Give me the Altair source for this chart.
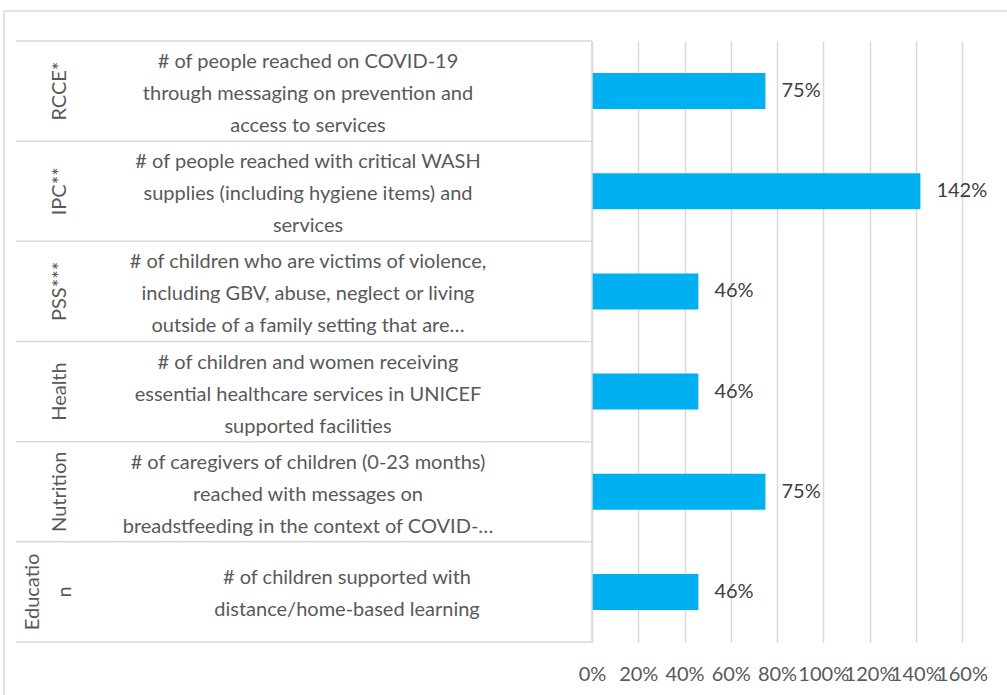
import altair as alt
import pandas as pd

groups = ["RCCE*", "IPC**", "PSS***", "Health", "Nutrition", "Educatio\nn"]
indicators = [
    "# of people reached on COVID-19\nthrough messaging on prevention and\naccess to services",
    "# of people reached with critical WASH\nsupplies (including hygiene items) and\nservices",
    "# of children who are victims of violence,\nincluding GBV, abuse, neglect or living\noutside of a family setting that are…",
    "# of children and women receiving\nessential healthcare services in UNICEF\nsupported facilities",
    "# of caregivers of children (0-23 months)\nreached with messages on\nbreadstfeeding in the context of COVID-…",
    "# of children supported with\ndistance/home-based learning",
]
values = [0.75, 1.42, 0.46, 0.46, 0.75, 0.46]
x_ticks = [0, 0.2, 0.4, 0.6, 0.8, 1.0, 1.2, 1.4, 1.6]

df = pd.DataFrame({"group": groups, "indicator": indicators, "value": values})
df["key"] = [str(i) for i in range(len(groups))]
order = list(df["key"])
last = order[-1]

FONT = "Lato"
GRID = "#D9D9D9"
TXT = "#595959"
FS = 20

xscale = alt.Scale(domain=[0, 1.6], range=[576, 946])
yscale = alt.Scale(type="band", domain=order, paddingInner=0, paddingOuter=0)
Y = lambda bp=0.5: alt.Y("key:N", scale=yscale, axis=None, bandPosition=bp)

base = alt.Chart(df)
one = alt.Chart(pd.DataFrame({"a": [0]}))

bars = base.mark_bar(color="#00B0F0", height=alt.RelativeBandSize(0.36)).encode(
    x=alt.X("value:Q", scale=xscale,
            axis=alt.Axis(values=x_ticks, format=".0%", grid=True, gridColor=GRID, gridWidth=1.5,
                          ticks=False, domain=False, labelFont=FONT, labelFontSize=FS,
                          labelColor=TXT, labelPadding=22, labelOverlap=False, labelBound=False,
                          labelFlush=False, title=None)),
    y=alt.Y("key:N", scale=yscale, axis=None),
)

bar_labels = base.mark_text(align="left", baseline="middle", dx=16, font=FONT, fontSize=FS,
                            color="#404040").encode(
    x=alt.X("value:Q", scale=xscale),
    y=Y(),
    text=alt.Text("value:Q", format=".0%"),
)

row_lines = base.mark_rule(color=GRID, strokeWidth=1.5).encode(
    y=Y(0), x=alt.value(0), x2=alt.value(576),
)
bottom_line = base.transform_filter(alt.datum.key == last).mark_rule(
    color=GRID, strokeWidth=1.5).encode(
    y=Y(1), x=alt.value(0), x2=alt.value(576),
)

axis_line = one.mark_rule(color=GRID, strokeWidth=1.5).encode(
    x=alt.X(datum=0, scale=xscale)
)

def txt(**kw):
    return dict(font=FONT, fontSize=FS, color=TXT, lineBreak="\n", lineHeight=32,
                align="center", baseline="middle", **kw)

group_labels = base.transform_filter(alt.datum.key != last).mark_text(
    **txt(angle=270)).encode(x=alt.value(44), y=Y(), text="group:N")
group_label_last = base.transform_filter(alt.datum.key == last).mark_text(
    **txt(angle=270, dy=-27)).encode(x=alt.value(44), y=Y(), text="group:N")

item_labels = base.transform_filter(alt.datum.key != last).mark_text(
    **txt(dy=-29)).encode(x=alt.value(292), y=Y(), text="indicator:N")
item_label_last = base.transform_filter(alt.datum.key == last).mark_text(
    **txt(dy=-14)).encode(x=alt.value(331), y=Y(), text="indicator:N")

border_top = one.mark_rule(color=GRID, strokeWidth=1.5).encode(
    x=alt.value(-12), x2=alt.value(991), y=alt.value(-30))
border_left = one.mark_rule(color=GRID, strokeWidth=1.5).encode(
    x=alt.value(-12), y=alt.value(-30), y2=alt.value(654))

chart = alt.layer(
    border_top, border_left, row_lines, bottom_line, bars, axis_line, bar_labels,
    group_labels, group_label_last, item_labels, item_label_last,
).properties(
    width=946, height=601,
    autosize=alt.AutoSizeParams(type="none"),
    padding={"left": 16, "top": 41, "right": 45, "bottom": 53},
    background="white",
).configure_view(strokeWidth=0)

chart.save("out.html", embed_options={"renderer": "svg", "actions": False})
